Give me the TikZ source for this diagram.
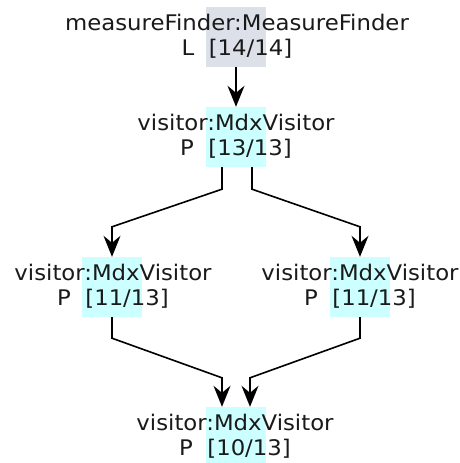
\documentclass[tikz,border=0pt]{standalone}
\usepackage{fontspec}
\setmainfont{DejaVu Sans}[FakeStretch=1.06]
\usetikzlibrary{arrows.meta}
\definecolor{lockgray}{RGB}{220,225,233}
\definecolor{partcyan}{RGB}{204,255,255}
\definecolor{inktext}{RGB}{26,26,26}
\tikzset{
  hlbox/.style={rectangle, draw=none, minimum width=60pt, minimum height=60pt, inner sep=0pt},
  lbl/.style={anchor=base, inner sep=0pt, text=inktext, font=\fontsize{21.5}{25}\selectfont},
  arr/.style={line width=1.6pt, -{Stealth[length=21pt,width=17pt,inset=7pt]}}
}
\begin{document}
\begin{tikzpicture}[x=1pt,y=-1pt]
\clip (0,0) rectangle (460,463);
\useasboundingbox (0,0) rectangle (460,463);
\fill[white] (0,0) rectangle (460,463);

% highlight boxes behind the labels
\node[hlbox, fill=lockgray] (n1) at (236,37) {};
\node[hlbox, fill=partcyan] (n2) at (236,137) {};
\node[hlbox, fill=partcyan] (nL) at (112,287) {};
\node[hlbox, fill=partcyan] (nR) at (360,287) {};
\node[hlbox, fill=partcyan] (nB) at (236,437) {};

% labels
\node[lbl] (t1a) at (237,30) {measureFinder:MeasureFinder};
\node[lbl] (t1b) at (237,55) {L~~[14/14]};
\node[lbl] (t2a) at (236,130) {visitor:MdxVisitor};
\node[lbl] (t2b) at (236,155) {P~~[13/13]};
\node[lbl] (tLa) at (113,280) {visitor:MdxVisitor};
\node[lbl] (tLb) at (113,305) {P~~[11/13]};
\node[lbl] (tRa) at (360,280) {visitor:MdxVisitor};
\node[lbl] (tRb) at (360,305) {P~~[11/13]};
\node[lbl] (tBa) at (235,430) {visitor:MdxVisitor};
\node[lbl] (tBb) at (235,455) {P~~[10/13]};

% connectors
\draw[arr] (n1.south) -- (n2.north);
\draw[arr] ([xshift=-14pt]n2.south) -- ++(0,22) -- ([yshift=30pt]nL.north) -- (nL.north);
\draw[arr] ([xshift=16pt]n2.south) -- ++(0,22) -- ([yshift=30pt]nR.north) -- (nR.north);
\draw[arr] (nL.south) -- ++(0,21) -- ([xshift=-14pt,yshift=29pt]nB.north) -- ([xshift=-14pt]nB.north);
\draw[arr] (nR.south) -- ++(0,21) -- ([xshift=14pt,yshift=29pt]nB.north) -- ([xshift=14pt]nB.north);
\end{tikzpicture}
\end{document}
